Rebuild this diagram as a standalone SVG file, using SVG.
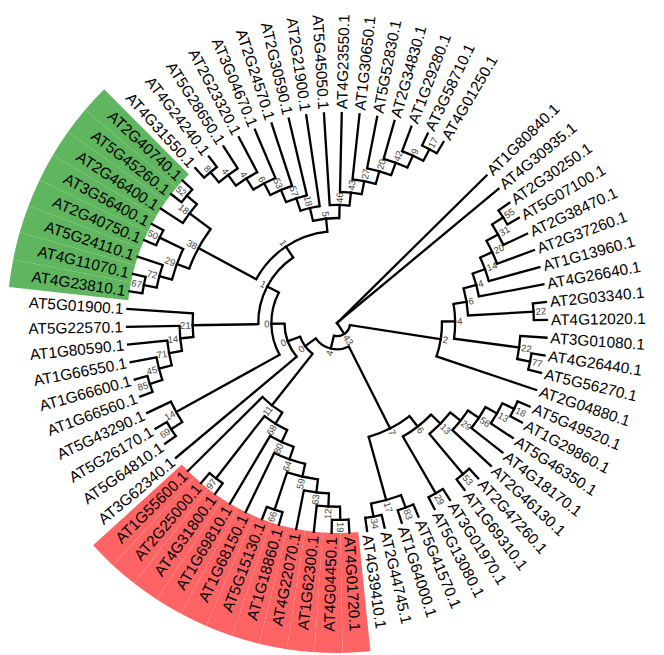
<svg xmlns="http://www.w3.org/2000/svg" width="664" height="655" viewBox="0 0 664 655">
<style>
.t{font-family:"Liberation Sans",Arial,sans-serif;font-size:15.4px;fill:#000}
.l{text-anchor:end}
.b{font-family:"Liberation Sans",Arial,sans-serif;font-size:9.5px;fill:#444}
#connectors line{stroke:#000;stroke-width:2.3;stroke-linecap:square;fill:none}
#connectors circle{stroke:#000;stroke-width:2.3;fill:none}
.red{fill:none;stroke:#fe6464;stroke-width:120}
.grn{fill:none;stroke:#5fb65f;stroke-width:120}
</style>
<rect width="664" height="655" fill="#fff"/>
<g transform="translate(337,323)">
<g id="bands">
<circle class="red" r="270" pathLength="360" stroke-dasharray="4.86 999" transform="rotate(84.19)"/>
<circle class="red" r="270" pathLength="360" stroke-dasharray="4.86 999" transform="rotate(89.05)"/>
<circle class="red" r="270" pathLength="360" stroke-dasharray="4.86 999" transform="rotate(93.91)"/>
<circle class="red" r="270" pathLength="360" stroke-dasharray="4.86 999" transform="rotate(98.77)"/>
<circle class="red" r="270" pathLength="360" stroke-dasharray="4.86 999" transform="rotate(103.63)"/>
<circle class="red" r="270" pathLength="360" stroke-dasharray="4.86 999" transform="rotate(108.49)"/>
<circle class="red" r="270" pathLength="360" stroke-dasharray="4.86 999" transform="rotate(113.35)"/>
<circle class="red" r="270" pathLength="360" stroke-dasharray="4.86 999" transform="rotate(118.21)"/>
<circle class="red" r="270" pathLength="360" stroke-dasharray="4.86 999" transform="rotate(123.07)"/>
<circle class="red" r="270" pathLength="360" stroke-dasharray="4.86 999" transform="rotate(127.93)"/>
<circle class="red" r="270" pathLength="360" stroke-dasharray="4.86 999" transform="rotate(132.79)"/>
<circle class="grn" r="270" pathLength="360" stroke-dasharray="4.86 999" transform="rotate(186.25)"/>
<circle class="grn" r="270" pathLength="360" stroke-dasharray="4.86 999" transform="rotate(191.11)"/>
<circle class="grn" r="270" pathLength="360" stroke-dasharray="4.86 999" transform="rotate(195.97)"/>
<circle class="grn" r="270" pathLength="360" stroke-dasharray="4.86 999" transform="rotate(200.83)"/>
<circle class="grn" r="270" pathLength="360" stroke-dasharray="4.86 999" transform="rotate(205.69)"/>
<circle class="grn" r="270" pathLength="360" stroke-dasharray="4.86 999" transform="rotate(210.55)"/>
<circle class="grn" r="270" pathLength="360" stroke-dasharray="4.86 999" transform="rotate(215.41)"/>
<circle class="grn" r="270" pathLength="360" stroke-dasharray="4.86 999" transform="rotate(220.27)"/>
</g>
<g id="connectors">
<line x1="0" x2="210" transform="rotate(-44.6)"/>
<line x1="0" x2="210" transform="rotate(-39.74)"/>
<line x1="0" x2="13.13" transform="rotate(56.26)"/>
<line x1="13.13" x2="105" transform="rotate(8.88)"/>
<line x1="13.13" x2="26.25" transform="rotate(103.65)"/>
<line x1="105" x2="118.13" transform="rotate(-0.82)"/>
<line x1="105" x2="210" transform="rotate(18.58)"/>
<line x1="118.13" x2="131.25" transform="rotate(-9.29)"/>
<line x1="118.13" x2="183.75" transform="rotate(7.65)"/>
<line x1="131.25" x2="144.38" transform="rotate(-15.29)"/>
<line x1="131.25" x2="196.88" transform="rotate(-3.29)"/>
<line x1="144.38" x2="157.5" transform="rotate(-20)"/>
<line x1="144.38" x2="210" transform="rotate(-10.58)"/>
<line x1="157.5" x2="170.63" transform="rotate(-24.55)"/>
<line x1="157.5" x2="210" transform="rotate(-15.44)"/>
<line x1="170.63" x2="183.75" transform="rotate(-28.81)"/>
<line x1="170.63" x2="210" transform="rotate(-20.3)"/>
<line x1="183.75" x2="196.88" transform="rotate(-32.45)"/>
<line x1="183.75" x2="210" transform="rotate(-25.16)"/>
<line x1="196.88" x2="210" transform="rotate(-34.88)"/>
<line x1="196.88" x2="210" transform="rotate(-30.02)"/>
<line x1="196.88" x2="210" transform="rotate(-5.72)"/>
<line x1="196.88" x2="210" transform="rotate(-0.86)"/>
<line x1="183.75" x2="210" transform="rotate(4)"/>
<line x1="183.75" x2="196.88" transform="rotate(11.29)"/>
<line x1="196.88" x2="210" transform="rotate(8.86)"/>
<line x1="196.88" x2="210" transform="rotate(13.72)"/>
<line x1="26.25" x2="118.13" transform="rotate(63.27)"/>
<line x1="26.25" x2="39.38" transform="rotate(144.02)"/>
<line x1="118.13" x2="131.25" transform="rotate(52.07)"/>
<line x1="118.13" x2="183.75" transform="rotate(74.47)"/>
<line x1="131.25" x2="144.38" transform="rotate(44.25)"/>
<line x1="131.25" x2="196.88" transform="rotate(59.89)"/>
<line x1="144.38" x2="157.5" transform="rotate(38.32)"/>
<line x1="144.38" x2="196.88" transform="rotate(50.17)"/>
<line x1="157.5" x2="170.63" transform="rotate(33.77)"/>
<line x1="157.5" x2="210" transform="rotate(42.88)"/>
<line x1="170.63" x2="183.75" transform="rotate(29.52)"/>
<line x1="170.63" x2="210" transform="rotate(38.02)"/>
<line x1="183.75" x2="196.88" transform="rotate(25.87)"/>
<line x1="183.75" x2="210" transform="rotate(33.16)"/>
<line x1="196.88" x2="210" transform="rotate(23.44)"/>
<line x1="196.88" x2="210" transform="rotate(28.3)"/>
<line x1="196.88" x2="210" transform="rotate(47.74)"/>
<line x1="196.88" x2="210" transform="rotate(52.6)"/>
<line x1="196.88" x2="210" transform="rotate(57.46)"/>
<line x1="196.88" x2="210" transform="rotate(62.32)"/>
<line x1="183.75" x2="196.88" transform="rotate(69.61)"/>
<line x1="183.75" x2="196.88" transform="rotate(79.33)"/>
<line x1="196.88" x2="210" transform="rotate(67.18)"/>
<line x1="196.88" x2="210" transform="rotate(72.04)"/>
<line x1="196.88" x2="210" transform="rotate(76.9)"/>
<line x1="196.88" x2="210" transform="rotate(81.76)"/>
<line x1="39.38" x2="105" transform="rotate(128.33)"/>
<line x1="39.38" x2="52.5" transform="rotate(159.71)"/>
<line x1="105" x2="118.13" transform="rotate(121.44)"/>
<line x1="105" x2="210" transform="rotate(135.22)"/>
<line x1="118.13" x2="131.25" transform="rotate(114.95)"/>
<line x1="118.13" x2="196.88" transform="rotate(127.93)"/>
<line x1="131.25" x2="144.38" transform="rotate(109.25)"/>
<line x1="131.25" x2="210" transform="rotate(120.64)"/>
<line x1="144.38" x2="157.5" transform="rotate(102.72)"/>
<line x1="144.38" x2="210" transform="rotate(115.78)"/>
<line x1="157.5" x2="170.63" transform="rotate(96.95)"/>
<line x1="157.5" x2="196.88" transform="rotate(108.49)"/>
<line x1="170.63" x2="183.75" transform="rotate(92.7)"/>
<line x1="170.63" x2="210" transform="rotate(101.2)"/>
<line x1="183.75" x2="196.88" transform="rotate(89.05)"/>
<line x1="183.75" x2="210" transform="rotate(96.34)"/>
<line x1="196.88" x2="210" transform="rotate(86.62)"/>
<line x1="196.88" x2="210" transform="rotate(91.48)"/>
<line x1="196.88" x2="210" transform="rotate(106.06)"/>
<line x1="196.88" x2="210" transform="rotate(110.92)"/>
<line x1="196.88" x2="210" transform="rotate(125.5)"/>
<line x1="196.88" x2="210" transform="rotate(130.36)"/>
<line x1="52.5" x2="210" transform="rotate(140.08)"/>
<line x1="52.5" x2="65.63" transform="rotate(179.34)"/>
<line x1="65.63" x2="183.75" transform="rotate(151.02)"/>
<line x1="65.63" x2="78.75" transform="rotate(207.66)"/>
<line x1="183.75" x2="196.88" transform="rotate(147.37)"/>
<line x1="183.75" x2="210" transform="rotate(154.66)"/>
<line x1="196.88" x2="210" transform="rotate(144.94)"/>
<line x1="196.88" x2="210" transform="rotate(149.8)"/>
<line x1="78.75" x2="144.38" transform="rotate(179.11)"/>
<line x1="78.75" x2="91.88" transform="rotate(236.22)"/>
<line x1="144.38" x2="157.5" transform="rotate(174.4)"/>
<line x1="144.38" x2="210" transform="rotate(183.82)"/>
<line x1="157.5" x2="170.63" transform="rotate(169.85)"/>
<line x1="157.5" x2="210" transform="rotate(178.96)"/>
<line x1="170.63" x2="183.75" transform="rotate(165.6)"/>
<line x1="170.63" x2="210" transform="rotate(174.1)"/>
<line x1="183.75" x2="196.88" transform="rotate(161.95)"/>
<line x1="183.75" x2="210" transform="rotate(169.24)"/>
<line x1="196.88" x2="210" transform="rotate(159.52)"/>
<line x1="196.88" x2="210" transform="rotate(164.38)"/>
<line x1="91.88" x2="157.5" transform="rotate(208.42)"/>
<line x1="91.88" x2="105" transform="rotate(264.01)"/>
<line x1="157.5" x2="170.63" transform="rotate(200.22)"/>
<line x1="157.5" x2="183.75" transform="rotate(216.63)"/>
<line x1="170.63" x2="183.75" transform="rotate(194.76)"/>
<line x1="170.63" x2="196.88" transform="rotate(205.69)"/>
<line x1="183.75" x2="196.88" transform="rotate(191.11)"/>
<line x1="183.75" x2="210" transform="rotate(198.4)"/>
<line x1="196.88" x2="210" transform="rotate(188.68)"/>
<line x1="196.88" x2="210" transform="rotate(193.54)"/>
<line x1="196.88" x2="210" transform="rotate(203.26)"/>
<line x1="196.88" x2="210" transform="rotate(208.12)"/>
<line x1="183.75" x2="210" transform="rotate(212.98)"/>
<line x1="183.75" x2="196.88" transform="rotate(220.27)"/>
<line x1="196.88" x2="210" transform="rotate(217.84)"/>
<line x1="196.88" x2="210" transform="rotate(222.7)"/>
<line x1="105" x2="118.13" transform="rotate(256.76)"/>
<line x1="105" x2="118.13" transform="rotate(271.26)"/>
<line x1="118.13" x2="131.25" transform="rotate(251.94)"/>
<line x1="118.13" x2="210" transform="rotate(261.58)"/>
<line x1="131.25" x2="144.38" transform="rotate(247.15)"/>
<line x1="131.25" x2="210" transform="rotate(256.72)"/>
<line x1="144.38" x2="157.5" transform="rotate(242.45)"/>
<line x1="144.38" x2="210" transform="rotate(251.86)"/>
<line x1="157.5" x2="170.63" transform="rotate(237.89)"/>
<line x1="157.5" x2="210" transform="rotate(247)"/>
<line x1="170.63" x2="183.75" transform="rotate(233.64)"/>
<line x1="170.63" x2="210" transform="rotate(242.14)"/>
<line x1="183.75" x2="196.88" transform="rotate(229.99)"/>
<line x1="183.75" x2="210" transform="rotate(237.28)"/>
<line x1="196.88" x2="210" transform="rotate(227.56)"/>
<line x1="196.88" x2="210" transform="rotate(232.42)"/>
<line x1="118.13" x2="210" transform="rotate(266.44)"/>
<line x1="118.13" x2="131.25" transform="rotate(276.09)"/>
<line x1="131.25" x2="210" transform="rotate(271.3)"/>
<line x1="131.25" x2="144.38" transform="rotate(280.87)"/>
<line x1="144.38" x2="210" transform="rotate(276.16)"/>
<line x1="144.38" x2="157.5" transform="rotate(285.58)"/>
<line x1="157.5" x2="210" transform="rotate(281.02)"/>
<line x1="157.5" x2="170.63" transform="rotate(290.13)"/>
<line x1="170.63" x2="210" transform="rotate(285.88)"/>
<line x1="170.63" x2="183.75" transform="rotate(294.39)"/>
<line x1="183.75" x2="210" transform="rotate(290.74)"/>
<line x1="183.75" x2="196.88" transform="rotate(298.03)"/>
<line x1="196.88" x2="210" transform="rotate(295.6)"/>
<line x1="196.88" x2="210" transform="rotate(300.46)"/>
<circle r="13.13" pathLength="360" stroke-dasharray="94.77 999" transform="rotate(8.88)"/>
<circle r="105" pathLength="360" stroke-dasharray="19.4 999" transform="rotate(-0.82)"/>
<circle r="118.13" pathLength="360" stroke-dasharray="16.94 999" transform="rotate(-9.29)"/>
<circle r="131.25" pathLength="360" stroke-dasharray="12 999" transform="rotate(-15.29)"/>
<circle r="144.38" pathLength="360" stroke-dasharray="9.42 999" transform="rotate(-20)"/>
<circle r="157.5" pathLength="360" stroke-dasharray="9.11 999" transform="rotate(-24.55)"/>
<circle r="170.63" pathLength="360" stroke-dasharray="8.51 999" transform="rotate(-28.81)"/>
<circle r="183.75" pathLength="360" stroke-dasharray="7.29 999" transform="rotate(-32.45)"/>
<circle r="196.88" pathLength="360" stroke-dasharray="4.86 999" transform="rotate(-34.88)"/>
<circle r="196.88" pathLength="360" stroke-dasharray="4.86 999" transform="rotate(-5.72)"/>
<circle r="183.75" pathLength="360" stroke-dasharray="7.29 999" transform="rotate(4)"/>
<circle r="196.88" pathLength="360" stroke-dasharray="4.86 999" transform="rotate(8.86)"/>
<circle r="26.25" pathLength="360" stroke-dasharray="80.75 999" transform="rotate(63.27)"/>
<circle r="118.13" pathLength="360" stroke-dasharray="22.4 999" transform="rotate(52.07)"/>
<circle r="131.25" pathLength="360" stroke-dasharray="15.64 999" transform="rotate(44.25)"/>
<circle r="144.38" pathLength="360" stroke-dasharray="11.85 999" transform="rotate(38.32)"/>
<circle r="157.5" pathLength="360" stroke-dasharray="9.11 999" transform="rotate(33.77)"/>
<circle r="170.63" pathLength="360" stroke-dasharray="8.5 999" transform="rotate(29.52)"/>
<circle r="183.75" pathLength="360" stroke-dasharray="7.29 999" transform="rotate(25.87)"/>
<circle r="196.88" pathLength="360" stroke-dasharray="4.86 999" transform="rotate(23.44)"/>
<circle r="196.88" pathLength="360" stroke-dasharray="4.86 999" transform="rotate(47.74)"/>
<circle r="196.88" pathLength="360" stroke-dasharray="4.86 999" transform="rotate(57.46)"/>
<circle r="183.75" pathLength="360" stroke-dasharray="9.72 999" transform="rotate(69.61)"/>
<circle r="196.88" pathLength="360" stroke-dasharray="4.86 999" transform="rotate(67.18)"/>
<circle r="196.88" pathLength="360" stroke-dasharray="4.86 999" transform="rotate(76.9)"/>
<circle r="39.38" pathLength="360" stroke-dasharray="31.38 999" transform="rotate(128.33)"/>
<circle r="105" pathLength="360" stroke-dasharray="13.78 999" transform="rotate(121.44)"/>
<circle r="118.13" pathLength="360" stroke-dasharray="12.98 999" transform="rotate(114.95)"/>
<circle r="131.25" pathLength="360" stroke-dasharray="11.39 999" transform="rotate(109.25)"/>
<circle r="144.38" pathLength="360" stroke-dasharray="13.06 999" transform="rotate(102.72)"/>
<circle r="157.5" pathLength="360" stroke-dasharray="11.54 999" transform="rotate(96.95)"/>
<circle r="170.63" pathLength="360" stroke-dasharray="8.5 999" transform="rotate(92.7)"/>
<circle r="183.75" pathLength="360" stroke-dasharray="7.29 999" transform="rotate(89.05)"/>
<circle r="196.88" pathLength="360" stroke-dasharray="4.86 999" transform="rotate(86.62)"/>
<circle r="196.88" pathLength="360" stroke-dasharray="4.86 999" transform="rotate(106.06)"/>
<circle r="196.88" pathLength="360" stroke-dasharray="4.86 999" transform="rotate(125.5)"/>
<circle r="52.5" pathLength="360" stroke-dasharray="39.26 999" transform="rotate(140.08)"/>
<circle r="65.63" pathLength="360" stroke-dasharray="56.64 999" transform="rotate(151.02)"/>
<circle r="183.75" pathLength="360" stroke-dasharray="7.29 999" transform="rotate(147.37)"/>
<circle r="196.88" pathLength="360" stroke-dasharray="4.86 999" transform="rotate(144.94)"/>
<circle r="78.75" pathLength="360" stroke-dasharray="57.11 999" transform="rotate(179.11)"/>
<circle r="144.38" pathLength="360" stroke-dasharray="9.42 999" transform="rotate(174.4)"/>
<circle r="157.5" pathLength="360" stroke-dasharray="9.11 999" transform="rotate(169.85)"/>
<circle r="170.63" pathLength="360" stroke-dasharray="8.5 999" transform="rotate(165.6)"/>
<circle r="183.75" pathLength="360" stroke-dasharray="7.29 999" transform="rotate(161.95)"/>
<circle r="196.88" pathLength="360" stroke-dasharray="4.86 999" transform="rotate(159.52)"/>
<circle r="91.88" pathLength="360" stroke-dasharray="55.59 999" transform="rotate(208.42)"/>
<circle r="157.5" pathLength="360" stroke-dasharray="16.41 999" transform="rotate(200.22)"/>
<circle r="170.63" pathLength="360" stroke-dasharray="10.93 999" transform="rotate(194.76)"/>
<circle r="183.75" pathLength="360" stroke-dasharray="7.29 999" transform="rotate(191.11)"/>
<circle r="196.88" pathLength="360" stroke-dasharray="4.86 999" transform="rotate(188.68)"/>
<circle r="196.88" pathLength="360" stroke-dasharray="4.86 999" transform="rotate(203.26)"/>
<circle r="183.75" pathLength="360" stroke-dasharray="7.29 999" transform="rotate(212.98)"/>
<circle r="196.88" pathLength="360" stroke-dasharray="4.86 999" transform="rotate(217.84)"/>
<circle r="105" pathLength="360" stroke-dasharray="14.5 999" transform="rotate(256.76)"/>
<circle r="118.13" pathLength="360" stroke-dasharray="9.64 999" transform="rotate(251.94)"/>
<circle r="131.25" pathLength="360" stroke-dasharray="9.57 999" transform="rotate(247.15)"/>
<circle r="144.38" pathLength="360" stroke-dasharray="9.41 999" transform="rotate(242.45)"/>
<circle r="157.5" pathLength="360" stroke-dasharray="9.11 999" transform="rotate(237.89)"/>
<circle r="170.63" pathLength="360" stroke-dasharray="8.5 999" transform="rotate(233.64)"/>
<circle r="183.75" pathLength="360" stroke-dasharray="7.29 999" transform="rotate(229.99)"/>
<circle r="196.88" pathLength="360" stroke-dasharray="4.86 999" transform="rotate(227.56)"/>
<circle r="118.13" pathLength="360" stroke-dasharray="9.65 999" transform="rotate(266.44)"/>
<circle r="131.25" pathLength="360" stroke-dasharray="9.57 999" transform="rotate(271.3)"/>
<circle r="144.38" pathLength="360" stroke-dasharray="9.42 999" transform="rotate(276.16)"/>
<circle r="157.5" pathLength="360" stroke-dasharray="9.11 999" transform="rotate(281.02)"/>
<circle r="170.63" pathLength="360" stroke-dasharray="8.51 999" transform="rotate(285.88)"/>
<circle r="183.75" pathLength="360" stroke-dasharray="7.29 999" transform="rotate(290.74)"/>
<circle r="196.88" pathLength="360" stroke-dasharray="4.86 999" transform="rotate(295.6)"/>
</g>
<g id="leaves">
<g id="leaf01"><text class="t" dy="0.35em" transform="rotate(-44.6) translate(214,0)">AT1G80840.1</text></g>
<g id="leaf02"><text class="t" dy="0.35em" transform="rotate(-39.74) translate(214,0)">AT4G30935.1</text></g>
<g id="leaf03"><text class="t" dy="0.35em" transform="rotate(-34.88) translate(214,0)">AT2G30250.1</text></g>
<g id="leaf04"><text class="t" dy="0.35em" transform="rotate(-30.02) translate(214,0)">AT5G07100.1</text></g>
<g id="leaf05"><text class="t" dy="0.35em" transform="rotate(-25.16) translate(214,0)">AT2G38470.1</text></g>
<g id="leaf06"><text class="t" dy="0.35em" transform="rotate(-20.3) translate(214,0)">AT2G37260.1</text></g>
<g id="leaf07"><text class="t" dy="0.35em" transform="rotate(-15.44) translate(214,0)">AT1G13960.1</text></g>
<g id="leaf08"><text class="t" dy="0.35em" transform="rotate(-10.58) translate(214,0)">AT4G26640.1</text></g>
<g id="leaf09"><text class="t" dy="0.35em" transform="rotate(-5.72) translate(214,0)">AT2G03340.1</text></g>
<g id="leaf10"><text class="t" dy="0.35em" transform="rotate(-0.86) translate(214,0)">AT4G12020.1</text></g>
<g id="leaf11"><text class="t" dy="0.35em" transform="rotate(4) translate(214,0)">AT3G01080.1</text></g>
<g id="leaf12"><text class="t" dy="0.35em" transform="rotate(8.86) translate(214,0)">AT4G26440.1</text></g>
<g id="leaf13"><text class="t" dy="0.35em" transform="rotate(13.72) translate(214,0)">AT5G56270.1</text></g>
<g id="leaf14"><text class="t" dy="0.35em" transform="rotate(18.58) translate(214,0)">AT2G04880.1</text></g>
<g id="leaf15"><text class="t" dy="0.35em" transform="rotate(23.44) translate(214,0)">AT5G49520.1</text></g>
<g id="leaf16"><text class="t" dy="0.35em" transform="rotate(28.3) translate(214,0)">AT1G29860.1</text></g>
<g id="leaf17"><text class="t" dy="0.35em" transform="rotate(33.16) translate(214,0)">AT5G46350.1</text></g>
<g id="leaf18"><text class="t" dy="0.35em" transform="rotate(38.02) translate(214,0)">AT4G18170.1</text></g>
<g id="leaf19"><text class="t" dy="0.35em" transform="rotate(42.88) translate(214,0)">AT2G46130.1</text></g>
<g id="leaf20"><text class="t" dy="0.35em" transform="rotate(47.74) translate(214,0)">AT2G47260.1</text></g>
<g id="leaf21"><text class="t" dy="0.35em" transform="rotate(52.6) translate(214,0)">AT1G69310.1</text></g>
<g id="leaf22"><text class="t" dy="0.35em" transform="rotate(57.46) translate(214,0)">AT3G01970.1</text></g>
<g id="leaf23"><text class="t" dy="0.35em" transform="rotate(62.32) translate(214,0)">AT5G13080.1</text></g>
<g id="leaf24"><text class="t" dy="0.35em" transform="rotate(67.18) translate(214,0)">AT5G41570.1</text></g>
<g id="leaf25"><text class="t" dy="0.35em" transform="rotate(72.04) translate(214,0)">AT1G64000.1</text></g>
<g id="leaf26"><text class="t" dy="0.35em" transform="rotate(76.9) translate(214,0)">AT2G44745.1</text></g>
<g id="leaf27"><text class="t" dy="0.35em" transform="rotate(81.76) translate(214,0)">AT4G39410.1</text></g>
<g id="leaf28"><text class="t" dy="0.35em" transform="rotate(86.62) translate(214,0)">AT4G01720.1</text></g>
<g id="leaf29"><text class="t l" dy="0.35em" transform="rotate(91.48) translate(214,0) rotate(180)">AT4G04450.1</text></g>
<g id="leaf30"><text class="t l" dy="0.35em" transform="rotate(96.34) translate(214,0) rotate(180)">AT1G62300.1</text></g>
<g id="leaf31"><text class="t l" dy="0.35em" transform="rotate(101.2) translate(214,0) rotate(180)">AT4G22070.1</text></g>
<g id="leaf32"><text class="t l" dy="0.35em" transform="rotate(106.06) translate(214,0) rotate(180)">AT1G18860.1</text></g>
<g id="leaf33"><text class="t l" dy="0.35em" transform="rotate(110.92) translate(214,0) rotate(180)">AT5G15130.1</text></g>
<g id="leaf34"><text class="t l" dy="0.35em" transform="rotate(115.78) translate(214,0) rotate(180)">AT1G68150.1</text></g>
<g id="leaf35"><text class="t l" dy="0.35em" transform="rotate(120.64) translate(214,0) rotate(180)">AT1G69810.1</text></g>
<g id="leaf36"><text class="t l" dy="0.35em" transform="rotate(125.5) translate(214,0) rotate(180)">AT4G31800.1</text></g>
<g id="leaf37"><text class="t l" dy="0.35em" transform="rotate(130.36) translate(214,0) rotate(180)">AT2G25000.1</text></g>
<g id="leaf38"><text class="t l" dy="0.35em" transform="rotate(135.22) translate(214,0) rotate(180)">AT1G55600.1</text></g>
<g id="leaf39"><text class="t l" dy="0.35em" transform="rotate(140.08) translate(214,0) rotate(180)">AT3G62340.1</text></g>
<g id="leaf40"><text class="t l" dy="0.35em" transform="rotate(144.94) translate(214,0) rotate(180)">AT5G64810.1</text></g>
<g id="leaf41"><text class="t l" dy="0.35em" transform="rotate(149.8) translate(214,0) rotate(180)">AT5G26170.1</text></g>
<g id="leaf42"><text class="t l" dy="0.35em" transform="rotate(154.66) translate(214,0) rotate(180)">AT5G43290.1</text></g>
<g id="leaf43"><text class="t l" dy="0.35em" transform="rotate(159.52) translate(214,0) rotate(180)">AT1G66560.1</text></g>
<g id="leaf44"><text class="t l" dy="0.35em" transform="rotate(164.38) translate(214,0) rotate(180)">AT1G66600.1</text></g>
<g id="leaf45"><text class="t l" dy="0.35em" transform="rotate(169.24) translate(214,0) rotate(180)">AT1G66550.1</text></g>
<g id="leaf46"><text class="t l" dy="0.35em" transform="rotate(174.1) translate(214,0) rotate(180)">AT1G80590.1</text></g>
<g id="leaf47"><text class="t l" dy="0.35em" transform="rotate(178.96) translate(214,0) rotate(180)">AT5G22570.1</text></g>
<g id="leaf48"><text class="t l" dy="0.35em" transform="rotate(183.82) translate(214,0) rotate(180)">AT5G01900.1</text></g>
<g id="leaf49"><text class="t l" dy="0.35em" transform="rotate(188.68) translate(214,0) rotate(180)">AT4G23810.1</text></g>
<g id="leaf50"><text class="t l" dy="0.35em" transform="rotate(193.54) translate(214,0) rotate(180)">AT4G11070.1</text></g>
<g id="leaf51"><text class="t l" dy="0.35em" transform="rotate(198.4) translate(214,0) rotate(180)">AT5G24110.1</text></g>
<g id="leaf52"><text class="t l" dy="0.35em" transform="rotate(203.26) translate(214,0) rotate(180)">AT2G40750.1</text></g>
<g id="leaf53"><text class="t l" dy="0.35em" transform="rotate(208.12) translate(214,0) rotate(180)">AT3G56400.1</text></g>
<g id="leaf54"><text class="t l" dy="0.35em" transform="rotate(212.98) translate(214,0) rotate(180)">AT2G46400.1</text></g>
<g id="leaf55"><text class="t l" dy="0.35em" transform="rotate(217.84) translate(214,0) rotate(180)">AT5G45260.1</text></g>
<g id="leaf56"><text class="t l" dy="0.35em" transform="rotate(222.7) translate(214,0) rotate(180)">AT2G40740.1</text></g>
<g id="leaf57"><text class="t l" dy="0.35em" transform="rotate(227.56) translate(214,0) rotate(180)">AT4G31550.1</text></g>
<g id="leaf58"><text class="t l" dy="0.35em" transform="rotate(232.42) translate(214,0) rotate(180)">AT4G24240.1</text></g>
<g id="leaf59"><text class="t l" dy="0.35em" transform="rotate(237.28) translate(214,0) rotate(180)">AT5G28650.1</text></g>
<g id="leaf60"><text class="t l" dy="0.35em" transform="rotate(242.14) translate(214,0) rotate(180)">AT2G23320.1</text></g>
<g id="leaf61"><text class="t l" dy="0.35em" transform="rotate(247) translate(214,0) rotate(180)">AT3G04670.1</text></g>
<g id="leaf62"><text class="t l" dy="0.35em" transform="rotate(251.86) translate(214,0) rotate(180)">AT2G24570.1</text></g>
<g id="leaf63"><text class="t l" dy="0.35em" transform="rotate(256.72) translate(214,0) rotate(180)">AT2G30590.1</text></g>
<g id="leaf64"><text class="t l" dy="0.35em" transform="rotate(261.58) translate(214,0) rotate(180)">AT2G21900.1</text></g>
<g id="leaf65"><text class="t l" dy="0.35em" transform="rotate(266.44) translate(214,0) rotate(180)">AT5G45050.1</text></g>
<g id="leaf66"><text class="t" dy="0.35em" transform="rotate(271.3) translate(214,0)">AT4G23550.1</text></g>
<g id="leaf67"><text class="t" dy="0.35em" transform="rotate(276.16) translate(214,0)">AT1G30650.1</text></g>
<g id="leaf68"><text class="t" dy="0.35em" transform="rotate(281.02) translate(214,0)">AT5G52830.1</text></g>
<g id="leaf69"><text class="t" dy="0.35em" transform="rotate(285.88) translate(214,0)">AT2G34830.1</text></g>
<g id="leaf70"><text class="t" dy="0.35em" transform="rotate(290.74) translate(214,0)">AT1G29280.1</text></g>
<g id="leaf71"><text class="t" dy="0.35em" transform="rotate(295.6) translate(214,0)">AT3G58710.1</text></g>
<g id="leaf72"><text class="t" dy="0.35em" transform="rotate(300.46) translate(214,0)">AT4G01250.1</text></g>
</g>
<g id="nodes">
<g id="n55"><text class="b" dy="0.35em" transform="rotate(-32.45) translate(198.9,0)">55</text></g>
<g id="n31"><text class="b" dy="0.35em" transform="rotate(-28.81) translate(185.8,0)">31</text></g>
<g id="n20"><text class="b" dy="0.35em" transform="rotate(-24.55) translate(172.6,0)">20</text></g>
<g id="n14r"><text class="b" dy="0.35em" transform="rotate(-20) translate(159.5,0)">14</text></g>
<g id="n4c"><text class="b" dy="0.35em" transform="rotate(-15.29) translate(146.4,0)">4</text></g>
<g id="n22a"><text class="b" dy="0.35em" transform="rotate(-3.29) translate(198.9,0)">22</text></g>
<g id="n6r"><text class="b" dy="0.35em" transform="rotate(-9.29) translate(133.3,0)">6</text></g>
<g id="n77"><text class="b" dy="0.35em" transform="rotate(11.29) translate(198.9,0)">77</text></g>
<g id="n22b"><text class="b" dy="0.35em" transform="rotate(7.65) translate(185.8,0)">22</text></g>
<g id="n4d"><text class="b" dy="0.35em" transform="rotate(-0.82) translate(120.1,0)">4</text></g>
<g id="n2"><text class="b" dy="0.35em" transform="rotate(8.88) translate(107,0)">2</text></g>
<g id="n18"><text class="b" dy="0.35em" transform="rotate(25.87) translate(198.9,0)">18</text></g>
<g id="n13a"><text class="b" dy="0.35em" transform="rotate(29.52) translate(185.8,0)">13</text></g>
<g id="n56"><text class="b" dy="0.35em" transform="rotate(33.77) translate(172.6,0)">56</text></g>
<g id="n29a"><text class="b" dy="0.35em" transform="rotate(38.32) translate(159.5,0)">29</text></g>
<g id="n53"><text class="b" dy="0.35em" transform="rotate(50.17) translate(198.9,0)">53</text></g>
<g id="n13b"><text class="b" dy="0.35em" transform="rotate(44.25) translate(146.4,0)">13</text></g>
<g id="n29b"><text class="b" dy="0.35em" transform="rotate(59.89) translate(198.9,0)">29</text></g>
<g id="n6b"><text class="b" dy="0.35em" transform="rotate(52.07) translate(133.3,0)">6</text></g>
<g id="n83"><text class="b" dy="0.35em" transform="rotate(69.61) translate(198.9,0)">83</text></g>
<g id="n34"><text class="b" dy="0.35em" transform="rotate(79.33) translate(198.9,0)">34</text></g>
<g id="n17"><text class="b" dy="0.35em" transform="rotate(74.47) translate(185.8,0)">17</text></g>
<g id="n7"><text class="b" dy="0.35em" transform="rotate(63.27) translate(120.1,0)">7</text></g>
<g id="n19"><text class="b" dy="0.35em" transform="rotate(89.05) translate(198.9,0)">19</text></g>
<g id="n12"><text class="b l" dy="0.35em" transform="rotate(92.7) translate(185.8,0) rotate(180)">12</text></g>
<g id="n63"><text class="b l" dy="0.35em" transform="rotate(96.95) translate(172.6,0) rotate(180)">63</text></g>
<g id="n66"><text class="b l" dy="0.35em" transform="rotate(108.49) translate(198.9,0) rotate(180)">66</text></g>
<g id="n59"><text class="b l" dy="0.35em" transform="rotate(102.72) translate(159.5,0) rotate(180)">59</text></g>
<g id="n64"><text class="b l" dy="0.35em" transform="rotate(109.25) translate(146.4,0) rotate(180)">64</text></g>
<g id="n80"><text class="b l" dy="0.35em" transform="rotate(114.95) translate(133.3,0) rotate(180)">80</text></g>
<g id="n97"><text class="b l" dy="0.35em" transform="rotate(127.93) translate(198.9,0) rotate(180)">97</text></g>
<g id="n68"><text class="b l" dy="0.35em" transform="rotate(121.44) translate(120.1,0) rotate(180)">68</text></g>
<g id="n11"><text class="b l" dy="0.35em" transform="rotate(128.33) translate(107,0) rotate(180)">11</text></g>
<g id="n69"><text class="b l" dy="0.35em" transform="rotate(147.37) translate(198.9,0) rotate(180)">69</text></g>
<g id="n14L"><text class="b l" dy="0.35em" transform="rotate(151.02) translate(185.8,0) rotate(180)">14</text></g>
<g id="n85"><text class="b l" dy="0.35em" transform="rotate(161.95) translate(198.9,0) rotate(180)">85</text></g>
<g id="n45"><text class="b l" dy="0.35em" transform="rotate(165.6) translate(185.8,0) rotate(180)">45</text></g>
<g id="n71"><text class="b l" dy="0.35em" transform="rotate(169.85) translate(172.6,0) rotate(180)">71</text></g>
<g id="n14b"><text class="b l" dy="0.35em" transform="rotate(174.4) translate(159.5,0) rotate(180)">14</text></g>
<g id="n21"><text class="b l" dy="0.35em" transform="rotate(179.11) translate(146.4,0) rotate(180)">21</text></g>
<g id="n67"><text class="b l" dy="0.35em" transform="rotate(191.11) translate(198.9,0) rotate(180)">67</text></g>
<g id="n72"><text class="b l" dy="0.35em" transform="rotate(194.76) translate(185.8,0) rotate(180)">72</text></g>
<g id="n50"><text class="b l" dy="0.35em" transform="rotate(205.69) translate(198.9,0) rotate(180)">50</text></g>
<g id="n29g"><text class="b l" dy="0.35em" transform="rotate(200.22) translate(172.6,0) rotate(180)">29</text></g>
<g id="n52"><text class="b l" dy="0.35em" transform="rotate(220.27) translate(198.9,0) rotate(180)">52</text></g>
<g id="n18g"><text class="b l" dy="0.35em" transform="rotate(216.63) translate(185.8,0) rotate(180)">18</text></g>
<g id="n38"><text class="b l" dy="0.35em" transform="rotate(208.42) translate(159.5,0) rotate(180)">38</text></g>
<g id="n8"><text class="b l" dy="0.35em" transform="rotate(229.99) translate(198.9,0) rotate(180)">8</text></g>
<g id="n4a"><text class="b l" dy="0.35em" transform="rotate(233.64) translate(185.8,0) rotate(180)">4</text></g>
<g id="n4b"><text class="b l" dy="0.35em" transform="rotate(237.89) translate(172.6,0) rotate(180)">4</text></g>
<g id="n6t"><text class="b l" dy="0.35em" transform="rotate(242.45) translate(159.5,0) rotate(180)">6</text></g>
<g id="n53t"><text class="b l" dy="0.35em" transform="rotate(247.15) translate(146.4,0) rotate(180)">53</text></g>
<g id="n57"><text class="b l" dy="0.35em" transform="rotate(251.94) translate(133.3,0) rotate(180)">57</text></g>
<g id="n18t"><text class="b l" dy="0.35em" transform="rotate(256.76) translate(120.1,0) rotate(180)">18</text></g>
<g id="n17t"><text class="b" dy="0.35em" transform="rotate(298.03) translate(198.9,0)">17</text></g>
<g id="n9"><text class="b" dy="0.35em" transform="rotate(294.39) translate(185.8,0)">9</text></g>
<g id="n42"><text class="b" dy="0.35em" transform="rotate(290.13) translate(172.6,0)">42</text></g>
<g id="n20t"><text class="b" dy="0.35em" transform="rotate(285.58) translate(159.5,0)">20</text></g>
<g id="n27"><text class="b" dy="0.35em" transform="rotate(280.87) translate(146.4,0)">27</text></g>
<g id="n43t"><text class="b" dy="0.35em" transform="rotate(276.09) translate(133.3,0)">43</text></g>
<g id="n46"><text class="b" dy="0.35em" transform="rotate(271.26) translate(120.1,0)">46</text></g>
<g id="n5"><text class="b l" dy="0.35em" transform="rotate(264.01) translate(107,0) rotate(180)">5</text></g>
<g id="nA"><text class="b l" dy="0.35em" transform="rotate(236.22) translate(93.9,0) rotate(180)">1</text></g>
<g id="nB"><text class="b l" dy="0.35em" transform="rotate(207.66) translate(80.8,0) rotate(180)">1</text></g>
<g id="nC"><text class="b l" dy="0.35em" transform="rotate(179.34) translate(67.6,0) rotate(180)">0</text></g>
<g id="nE"><text class="b l" dy="0.35em" transform="rotate(159.71) translate(54.5,0) rotate(180)">0</text></g>
<g id="nF"><text class="b l" dy="0.35em" transform="rotate(144.02) translate(41.4,0) rotate(180)">0</text></g>
<g id="n4root"><text class="b l" dy="0.35em" transform="rotate(103.65) translate(28.3,0) rotate(180)">4</text></g>
<g id="n43"><text class="b" dy="0.35em" transform="rotate(56.26) translate(15.1,0)">43</text></g>
</g>
</g>
</svg>
